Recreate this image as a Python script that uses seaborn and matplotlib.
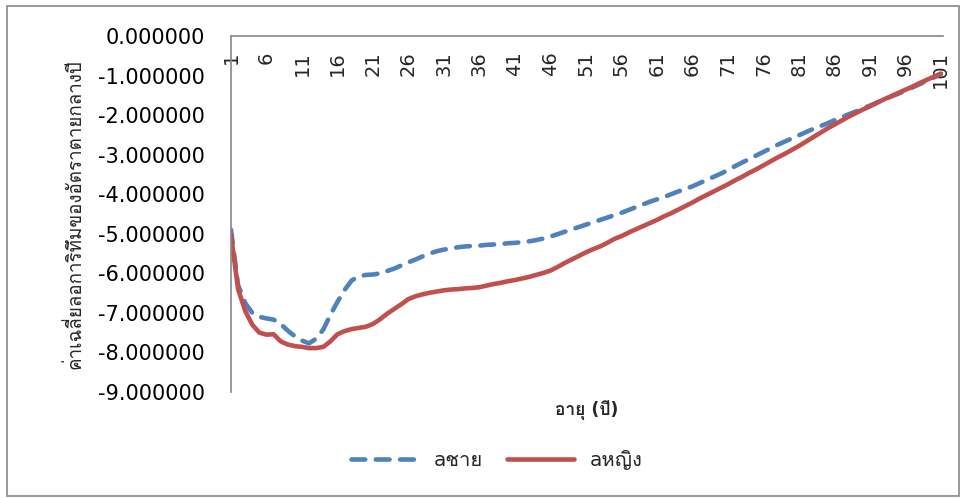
import matplotlib
matplotlib.use("Agg")
import matplotlib.pyplot as plt
from matplotlib import font_manager
from matplotlib.ft2font import FT2Font
from matplotlib.patches import Rectangle
import seaborn as sns
import pandas as pd

# Mean log central death rate by single year of age
ages = list(range(1, 102))
a_male = [
    -4.90, -6.30, -6.75, -7.00, -7.10, -7.14, -7.17, -7.28, -7.45, -7.59,
    -7.70, -7.77, -7.65, -7.42, -7.05, -6.72, -6.42, -6.18, -6.08, -6.04,
    -6.03, -6.00, -5.94, -5.88, -5.80, -5.72, -5.65, -5.57, -5.50, -5.44,
    -5.40, -5.37, -5.34, -5.32, -5.31, -5.30, -5.28, -5.27, -5.26, -5.24,
    -5.23, -5.21, -5.19, -5.16, -5.12, -5.07, -5.01, -4.95, -4.89, -4.83,
    -4.77, -4.71, -4.65, -4.59, -4.53, -4.47, -4.40, -4.33, -4.26, -4.19,
    -4.13, -4.07, -4.00, -3.93, -3.87, -3.80, -3.72, -3.64, -3.56, -3.48,
    -3.39, -3.29, -3.20, -3.11, -3.02, -2.93, -2.84, -2.75, -2.67, -2.59,
    -2.51, -2.43, -2.35, -2.28, -2.21, -2.13, -2.06, -1.98, -1.91, -1.83,
    -1.76, -1.68, -1.61, -1.53, -1.46, -1.38, -1.30, -1.22, -1.13, -1.05,
    -0.96,
]
a_female = [
    -5.03, -6.40, -6.95, -7.30, -7.50, -7.55, -7.54, -7.72, -7.80, -7.84,
    -7.86, -7.89, -7.89, -7.86, -7.72, -7.54, -7.46, -7.41, -7.38, -7.35,
    -7.28, -7.16, -7.02, -6.90, -6.78, -6.65, -6.58, -6.53, -6.49, -6.46,
    -6.43, -6.41, -6.40, -6.38, -6.37, -6.35, -6.31, -6.27, -6.24, -6.20,
    -6.17, -6.13, -6.09, -6.04, -5.99, -5.93, -5.84, -5.74, -5.65, -5.56,
    -5.47, -5.39, -5.32, -5.23, -5.13, -5.06, -4.97, -4.89, -4.81, -4.73,
    -4.65, -4.56, -4.48, -4.39, -4.30, -4.21, -4.11, -4.02, -3.93, -3.84,
    -3.75, -3.65, -3.56, -3.46, -3.37, -3.27, -3.17, -3.07, -2.98, -2.88,
    -2.78, -2.67, -2.56, -2.45, -2.34, -2.24, -2.14, -2.04, -1.95, -1.86,
    -1.78, -1.69, -1.60, -1.52, -1.44, -1.36, -1.28, -1.19, -1.11, -1.03,
    -0.95,
]
series_names = ["aชาย", "aหญิง"]
x_ticks = list(range(1, 102, 5))
y_ticks = [0, -1, -2, -3, -4, -5, -6, -7, -8, -9]
x_title = "อายุ (ปี)"
y_title = "ค่าเฉลี่ยลอการิทึมของอัตราตายกลางปี"


def find_thai_family():
    """Return the name of an installed family that covers Thai script."""
    seen = set()
    for entry in font_manager.fontManager.ttflist:
        if entry.name in seen:
            continue
        seen.add(entry.name)
        try:
            cmap = FT2Font(entry.fname).get_charmap()
        except Exception:
            continue
        if 0x0E01 in cmap and 0x0E32 in cmap:
            return entry.name
    return None


sns.set_theme(style="white")
thai = find_thai_family()
families = ["DejaVu Sans"] + ([thai] if thai else [])
plt.rcParams["font.family"] = families

df = pd.DataFrame({
    "age": ages * 2,
    "value": a_male + a_female,
    "sex": [series_names[0]] * len(ages) + [series_names[1]] * len(ages),
})

fig = plt.figure(figsize=(9.65, 4.98), dpi=100)
ax = fig.add_axes([231 / 965, 1 - 392 / 498, 712 / 965, 356 / 498])

lw = 3.3
palette = {series_names[0]: "#4F81BD", series_names[1]: "#C0504D"}
sns.lineplot(data=df, x="age", y="value", hue="sex", style="sex",
             palette=palette, dashes={series_names[0]: (3, 2.3), series_names[1]: ""},
             linewidth=lw, ax=ax, legend=False)
for line in ax.get_lines():
    line.set_dash_capstyle("round")
    line.set_solid_capstyle("round")

ax.set_xlim(1, 101.3)
ax.set_ylim(-9, 0)

# category axis sits on the zero line at the top
ax.set_xticks(x_ticks)
ax.set_xticklabels([str(t) for t in x_ticks])
ax.tick_params(axis="x", top=True, bottom=False, labeltop=True, labelbottom=False,
               length=0, pad=-11, labelsize=14, labelrotation=90)
for lbl in ax.get_xticklabels():
    lbl.set_verticalalignment("top")

ax.set_yticks(y_ticks)
ax.set_yticklabels([f"{v:.6f}" for v in y_ticks])
ax.tick_params(axis="y", left=True, length=0, pad=19, labelsize=15, labelcolor="black")

for side in ("right", "bottom"):
    ax.spines[side].set_visible(False)
for side in ("left", "top"):
    ax.spines[side].set_color("#868686")
    ax.spines[side].set_linewidth(1.2)

ax.set_xlabel(x_title, fontsize=12.5, fontweight="bold")
ax.xaxis.set_label_position("bottom")
ax.xaxis.set_label_coords(0.5, -0.05)
ax.xaxis.label.set_verticalalignment("center")

ax.set_ylabel(y_title, fontsize=13.5)
ax.yaxis.set_label_coords(-0.219, 0.5)
ax.yaxis.label.set_verticalalignment("center")

handles = [
    plt.Line2D([], [], color=palette[series_names[0]], linewidth=lw,
               dashes=(3, 2.3), dash_capstyle="round"),
    plt.Line2D([], [], color=palette[series_names[1]], linewidth=lw,
               solid_capstyle="round"),
]
fig.legend(handles, series_names, loc="center", bbox_to_anchor=(0.515, 0.076),
           ncol=2, frameon=False, fontsize=14.5, handlelength=3.3,
           handletextpad=0.8, columnspacing=1.2)

# chart border
fig.patches.append(Rectangle((7 / 965, 2 / 498), 952 / 965, 490 / 498,
                             transform=fig.transFigure, fill=False,
                             edgecolor="#888888", linewidth=1.2))

fig.savefig("out.png", dpi=100)
